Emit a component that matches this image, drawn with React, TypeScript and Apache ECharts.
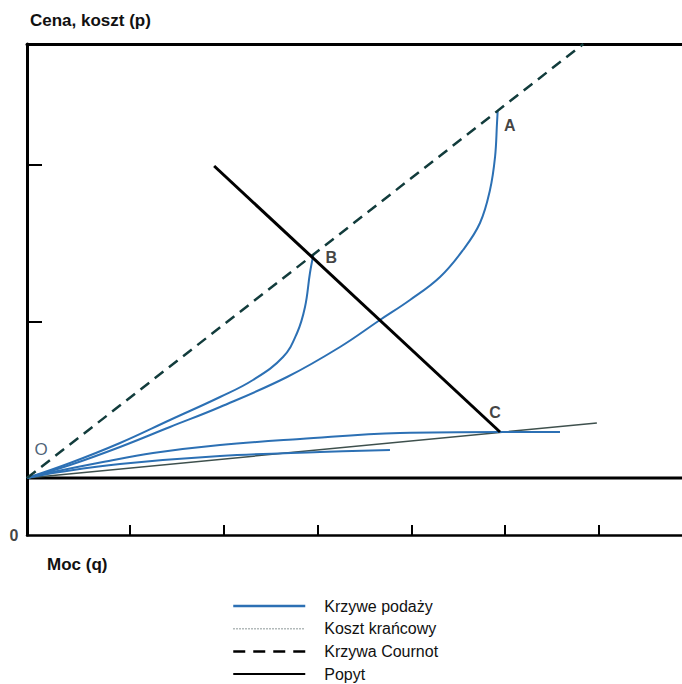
import React, { useEffect, useRef } from "react";
import * as echarts from "echarts";

// Axis ticks (data units)
const X_TICKS = [11, 21, 31.1, 41.1, 51.1, 61.1];
const Y_TICKS = [5.7, 21.3, 37];

// Supply curves (Krzywe podaży)
const supplyToB = [[0, 5.7], [4.6, 7.2], [9.94, 9.2], [15.28, 11.5], [20.63, 13.8], [24.15, 15.5], [27.36, 17.8], [28.86, 20.2], [29.71, 22.8], [30.24, 26.2], [30.6, 28.0]];
const supplyToA = [[0, 5.7], [4.6, 7.0], [9.94, 8.8], [15.28, 10.8], [20.63, 12.8], [27.79, 15.8], [33.45, 18.8], [37.72, 21.5], [40.93, 23.5], [44.14, 25.8], [46.6, 28.5], [48.41, 31.2], [49.48, 34.5], [50.02, 37.8], [50.23, 41.2], [50.3, 42.4]];
const supplyFlatHigh = [[0, 5.7], [2.78, 6.3], [8.12, 7.3], [13.47, 8.2], [20.63, 9.0], [29.18, 9.6], [39.86, 10.2], [50.55, 10.3], [56.96, 10.3]];
const supplyFlatLow = [[0, 5.7], [3.53, 6.3], [9.94, 7.1], [20.63, 7.9], [31.31, 8.3], [38.79, 8.5]];
// Marginal cost
const marginalCost = [[0, 5.7], [60.9, 11.2]];
// Cournot line
const cournot = [[0, 5.7], [59.45, 49.1]];
// Demand
const demand = [[20, 36.9], [50.55, 10.3]];
// Horizontal base line
const baseline = [[0, 5.7], [70, 5.7]];
// Point labels
const pointNames = ["A", "B", "C", "O", "0"];
const pointValues = [[50.3, 42.4], [30.6, 28.0], [50.55, 10.3], [0, 5.7], [0, 0]];

const LEGEND_NAMES = ["Krzywe podaży", "Koszt krańcowy", "Krzywa Cournot", "Popyt"];

const BLUE = "#2c70b4";
const FONT = "'Liberation Sans', Arial, sans-serif";
const CHART_H = 720;

export default function App() {
  const ref = useRef<HTMLDivElement>(null);
  useEffect(() => {
    if (!ref.current) return;
    const chart = echarts.init(ref.current, undefined, { renderer: "svg" });
    const blueSeries = (data: number[][]) => ({
      type: "line",
      name: LEGEND_NAMES[0],
      data,
      symbol: "none",
      smooth: 0.4,
      lineStyle: { color: BLUE, width: 2 },
      itemStyle: { color: BLUE },
      z: 4,
    });
    const labelOffsets: Record<string, number[]> = {
      A: [12, 14],
      B: [18, 2],
      C: [-5, -20],
      O: [14, -29],
      "0": [-13, 0],
    };
    chart.setOption({
      animation: false,
      backgroundColor: "#fff",
      grid: { left: 27, top: 44, right: 0, bottom: CHART_H - 535, containLabel: false },
      xAxis: [
        {
          type: "value",
          min: 0,
          max: 70,
          splitLine: { show: false },
          axisLine: { show: true, lineStyle: { color: "#000", width: 2.5 } },
          axisTick: { show: true, inside: true, length: 10, customValues: X_TICKS, lineStyle: { color: "#000", width: 2 } },
          axisLabel: { show: false },
        },
        {
          type: "value",
          position: "top",
          min: 0,
          max: 70,
          splitLine: { show: false },
          axisLine: { show: true, lineStyle: { color: "#000", width: 3 } },
          axisTick: { show: false },
          axisLabel: { show: false },
        },
      ],
      yAxis: {
        type: "value",
        min: 0,
        max: 49.1,
        splitLine: { show: false },
        axisLine: { show: true, lineStyle: { color: "#000", width: 3 } },
        axisTick: { show: true, inside: true, length: 15, customValues: Y_TICKS, lineStyle: { color: "#000", width: 2 } },
        axisLabel: { show: false },
      },
      legend: {
        orient: "vertical",
        left: 227,
        top: 593,
        itemWidth: 72,
        itemHeight: 14,
        itemGap: 6.7,
        itemStyle: { opacity: 0 },
        data: [
          { name: LEGEND_NAMES[0], lineStyle: { color: BLUE, width: 2.5 } },
          { name: LEGEND_NAMES[1], lineStyle: { color: "#9aa4a4", width: 1.5, type: "dotted" } },
          { name: LEGEND_NAMES[2], lineStyle: { color: "#000", width: 2.5, type: [12, 8] } },
          { name: LEGEND_NAMES[3], lineStyle: { color: "#000", width: 2 } },
        ],
        textStyle: { fontFamily: FONT, fontSize: 16, color: "#111", lineHeight: 16, padding: [0, 0, 0, 14] },
      },
      graphic: [
        { type: "text", left: 30, top: 12, style: { text: "Cena, koszt (p)", font: `bold 17px ${FONT}`, fill: "#111" } },
        { type: "text", left: 47, top: 556, style: { text: "Moc (q)", font: `bold 17px ${FONT}`, fill: "#111" } },
      ],
      series: [
        {
          type: "line",
          name: "baseline",
          data: baseline,
          symbol: "none",
          lineStyle: { color: "#000", width: 3 },
          z: 2,
        },
        {
          type: "line",
          name: LEGEND_NAMES[1],
          data: marginalCost,
          symbol: "none",
          lineStyle: { color: "#3e504d", width: 1.5 },
          itemStyle: { color: "#3e504d" },
          z: 3,
        },
        blueSeries(supplyToB),
        blueSeries(supplyToA),
        blueSeries(supplyFlatHigh),
        blueSeries(supplyFlatLow),
        {
          type: "line",
          name: LEGEND_NAMES[2],
          data: cournot,
          symbol: "none",
          lineStyle: { color: "#123c3c", width: 2.5, type: [11, 7] },
          itemStyle: { color: "#000" },
          z: 5,
        },
        {
          type: "line",
          name: LEGEND_NAMES[3],
          data: demand,
          symbol: "none",
          lineStyle: { color: "#000", width: 3 },
          itemStyle: { color: "#000" },
          z: 6,
        },
        {
          type: "scatter",
          name: "labels",
          symbolSize: 0,
          silent: true,
          z: 7,
          data: pointNames.map((n, i) => ({
            name: n,
            value: pointValues[i],
            label: {
              show: true,
              formatter: n,
              position: "inside",
              offset: labelOffsets[n],
              fontFamily: FONT,
              fontSize: n === "O" ? 17 : 16,
              fontWeight: n === "O" ? "normal" : "bold",
              color: n === "O" ? "#1c3b55" : "#111",
              textBorderWidth: 0,
              textBorderColor: "transparent",
            },
          })),
        },
      ],
    });
    return () => chart.dispose();
  }, []);
  return (
    <div style={{ position: "fixed", left: 0, top: 0, width: 682, height: 684, overflow: "hidden" }}>
      <div ref={ref} style={{ width: 682, height: CHART_H }} />
    </div>
  );
}
